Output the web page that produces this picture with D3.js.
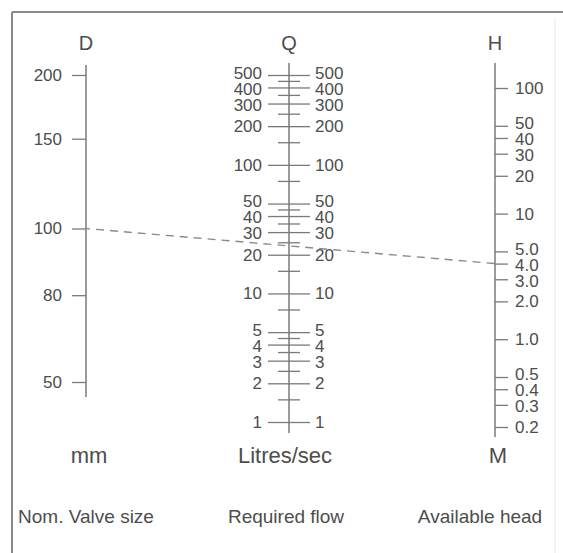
<!DOCTYPE html>
<html>
<head>
<meta charset="utf-8">
<script src="https://cdn.jsdelivr.net/npm/d3@7"></script>
<style>
  body { margin: 0; background: #fff; }
  svg { display: block; }
  text { font-family: "Liberation Sans", Arial, sans-serif; fill: #4d4d4d; }
</style>
</head>
<body>
<svg id="chart" width="563" height="553"></svg>
<script>
// nominal valve size (mm) - label and where it sits on the log scale
const dLabels = ["200", "150", "100", "80", "50"];
const dBore = [200, 150, 100, 74, 50];

// required flow, litres/sec
const qMajor = [500, 400, 300, 200, 100, 50, 40, 30, 20, 10, 5, 4, 3, 2, 1];
const qMinor = [450, 350, 250, 150, 75, 45, 35, 25, 15, 7.5, 4.5, 3.5, 2.5, 1.5];

// available head, m
const hTicks = [100, 50, 40, 30, 20, 10, 5, 4, 3, 2, 1, 0.5, 0.4, 0.3, 0.2];
const hLabels = ["100", "50", "40", "30", "20", "10", "5.0", "4.0", "3.0", "2.0", "1.0", "0.5", "0.4", "0.3", "0.2"];

// example reading: 100 mm valve, 4.0 m head
const exampleD = 100;
const exampleH = 4.0;

const svg = d3.select("#chart");
const lineCol = "#7a7a7a";

const xD = 86, xQ = 289, xH = 495;

const dScale = d3.scaleLog().domain([50, 200]).range([382, 75]);
const qScale = d3.scaleLog().domain([1, 500]).range([422, 75]);
const hScale = d3.scaleLog().domain([0.2, 100]).range([427, 88]);

// frame (scan is cropped on right and bottom)
svg.append("line").attr("x1", 12).attr("y1", 12).attr("x2", 563).attr("y2", 12)
  .attr("stroke", "#8a8a8a").attr("stroke-width", 2);
svg.append("line").attr("x1", 12).attr("y1", 12).attr("x2", 12).attr("y2", 553)
  .attr("stroke", "#8a8a8a").attr("stroke-width", 2);
svg.append("line").attr("x1", 555).attr("y1", 18).attr("x2", 555).attr("y2", 553)
  .attr("stroke", "#e8e8e8").attr("stroke-width", 1);

function styleAxis(g) {
  g.select(".domain").remove();
  g.attr("font-family", null).attr("font-size", null);
  g.selectAll(".tick line").attr("stroke", lineCol).attr("stroke-width", 1.3);
  g.selectAll(".tick text").attr("font-size", 17).attr("fill", "#4d4d4d");
}

// push crowded labels apart a little, ticks stay where they are
function spreadLabels(g, scale, gap) {
  const texts = g.selectAll(".tick text").nodes();
  const items = texts.map(t => ({ node: t, y0: scale(d3.select(t).datum()) }));
  items.sort((a, b) => a.y0 - b.y0);
  items.forEach(d => d.y = d.y0);
  for (let k = 0; k < 50; k++) {
    for (let i = 1; i < items.length; i++) {
      const diff = items[i].y - items[i - 1].y;
      if (diff < gap) {
        const push = (gap - diff) / 2;
        items[i].y += push;
        items[i - 1].y -= push;
      }
    }
  }
  items.forEach(d => d3.select(d.node).attr("y", d.y - d.y0));
}

// vertical scale lines
svg.append("line").attr("x1", xD).attr("x2", xD).attr("y1", 65).attr("y2", 397)
  .attr("stroke", lineCol).attr("stroke-width", 1.5);
svg.append("line").attr("x1", xQ).attr("x2", xQ).attr("y1", 63).attr("y2", 433)
  .attr("stroke", lineCol).attr("stroke-width", 1.5);
svg.append("line").attr("x1", xH).attr("x2", xH).attr("y1", 63).attr("y2", 437)
  .attr("stroke", lineCol).attr("stroke-width", 1.5);

// D scale
svg.append("g").attr("transform", `translate(${xD},0)`)
  .call(d3.axisLeft(dScale).tickValues(dBore)
    .tickFormat((d, i) => dLabels[i]).tickSize(14).tickPadding(10))
  .call(styleAxis);

// Q scale, labels both sides
svg.append("g").attr("transform", `translate(${xQ},0)`)
  .call(d3.axisLeft(qScale).tickValues(qMinor).tickFormat("").tickSize(11))
  .call(styleAxis);
svg.append("g").attr("transform", `translate(${xQ},0)`)
  .call(d3.axisRight(qScale).tickValues(qMinor).tickFormat("").tickSize(11))
  .call(styleAxis);
svg.append("g").attr("transform", `translate(${xQ},0)`)
  .call(d3.axisLeft(qScale).tickValues(qMajor).tickFormat(d3.format("d")).tickSize(21).tickPadding(6))
  .call(styleAxis)
  .call(g => spreadLabels(g, qScale, 16));
svg.append("g").attr("transform", `translate(${xQ},0)`)
  .call(d3.axisRight(qScale).tickValues(qMajor).tickFormat(d3.format("d")).tickSize(21).tickPadding(5))
  .call(styleAxis)
  .call(g => spreadLabels(g, qScale, 16));

// H scale
svg.append("g").attr("transform", `translate(${xH},0)`)
  .call(d3.axisRight(hScale).tickValues(hTicks)
    .tickFormat((d, i) => hLabels[i]).tickSize(13).tickPadding(7))
  .call(styleAxis)
  .call(g => spreadLabels(g, hScale, 16));

// dashed example line
svg.append("line")
  .attr("x1", xD).attr("y1", dScale(exampleD))
  .attr("x2", xH).attr("y2", hScale(exampleH))
  .attr("stroke", "#8a8a8a").attr("stroke-width", 1.4)
  .attr("stroke-dasharray", "8,6").attr("stroke-dashoffset", -10);

// scale letters
const letters = [["D", xD], ["Q", xQ], ["H", xH]];
svg.selectAll(".letter").data(letters).enter().append("text")
  .attr("class", "letter")
  .attr("x", d => d[1]).attr("y", 50)
  .attr("text-anchor", "middle").attr("font-size", 20)
  .text(d => d[0]);

// units
const units = [["mm", 89], ["Litres/sec", 285], ["M", 498]];
svg.selectAll(".unit").data(units).enter().append("text")
  .attr("class", "unit")
  .attr("x", d => d[1]).attr("y", 463)
  .attr("text-anchor", "middle").attr("font-size", 22)
  .text(d => d[0]);

// descriptions
const captions = [["Nom. Valve size", 86], ["Required flow", 286], ["Available head", 480]];
svg.selectAll(".caption").data(captions).enter().append("text")
  .attr("class", "caption")
  .attr("x", d => d[1]).attr("y", 523)
  .attr("text-anchor", "middle").attr("font-size", 19)
  .text(d => d[0]);
</script>
</body>
</html>
